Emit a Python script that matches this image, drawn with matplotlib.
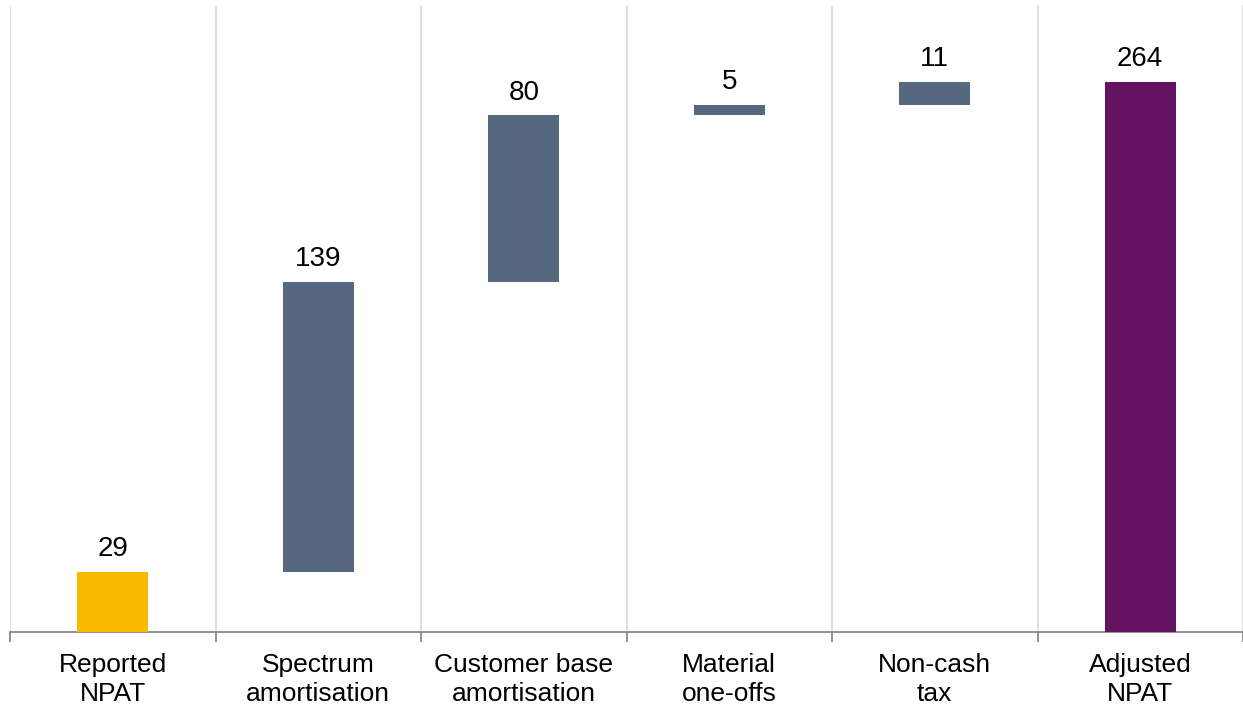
import numpy as np
import matplotlib.pyplot as plt

plt.rcParams['font.family'] = ['Liberation Sans', 'DejaVu Sans']

labels = ['Reported\nNPAT', 'Spectrum\namortisation', 'Customer base\namortisation',
          'Material\none-offs', 'Non-cash\ntax', 'Adjusted\nNPAT']
values = [29, 139, 80, 5, 11, 264]
is_total = [True, False, False, False, False, True]
colors = ['#FBBA00', '#56687F', '#56687F', '#56687F', '#56687F', '#641262']

# waterfall bottoms
bottoms = []
running = 0
for v, tot in zip(values, is_total):
    if tot:
        bottoms.append(0)
        running = v
    else:
        bottoms.append(running)
        running += v

x = np.arange(len(values))

fig = plt.figure(figsize=(12.43, 7.10), dpi=100)
ax = fig.add_axes([10/1243, 78/710, 1233/1243, 627/710])

ax.bar(x, values, bottom=bottoms, width=0.345, color=colors, zorder=3)
for xi, v, b in zip(x, values, bottoms):
    ax.annotate(str(v), (xi, b + v), xytext=(0, 7), textcoords='offset points',
                ha='center', va='bottom', fontsize=20)

ax.set_xlim(-0.5, 5.44)
ax.set_ylim(0, 301)
ax.set_yticks([])

ax.set_xticks(np.arange(-0.5, 6, 1))
ax.set_xticklabels([])
ax.tick_params(axis='x', which='major', length=7.5, width=1.3, color='#898989')
ax.set_xticks(x, minor=True)
ax.set_xticklabels(labels, minor=True, fontsize=19, linespacing=1.28)
ax.tick_params(axis='x', which='minor', length=0, pad=15)
ax.grid(axis='x', which='major', color='#dcdcdc', lw=1.3, zorder=0)

for s in ['top', 'right', 'left']:
    ax.spines[s].set_visible(False)
ax.spines['bottom'].set_color('#898989')
ax.spines['bottom'].set_linewidth(1.3)

fig.savefig('out.png', dpi=100)
